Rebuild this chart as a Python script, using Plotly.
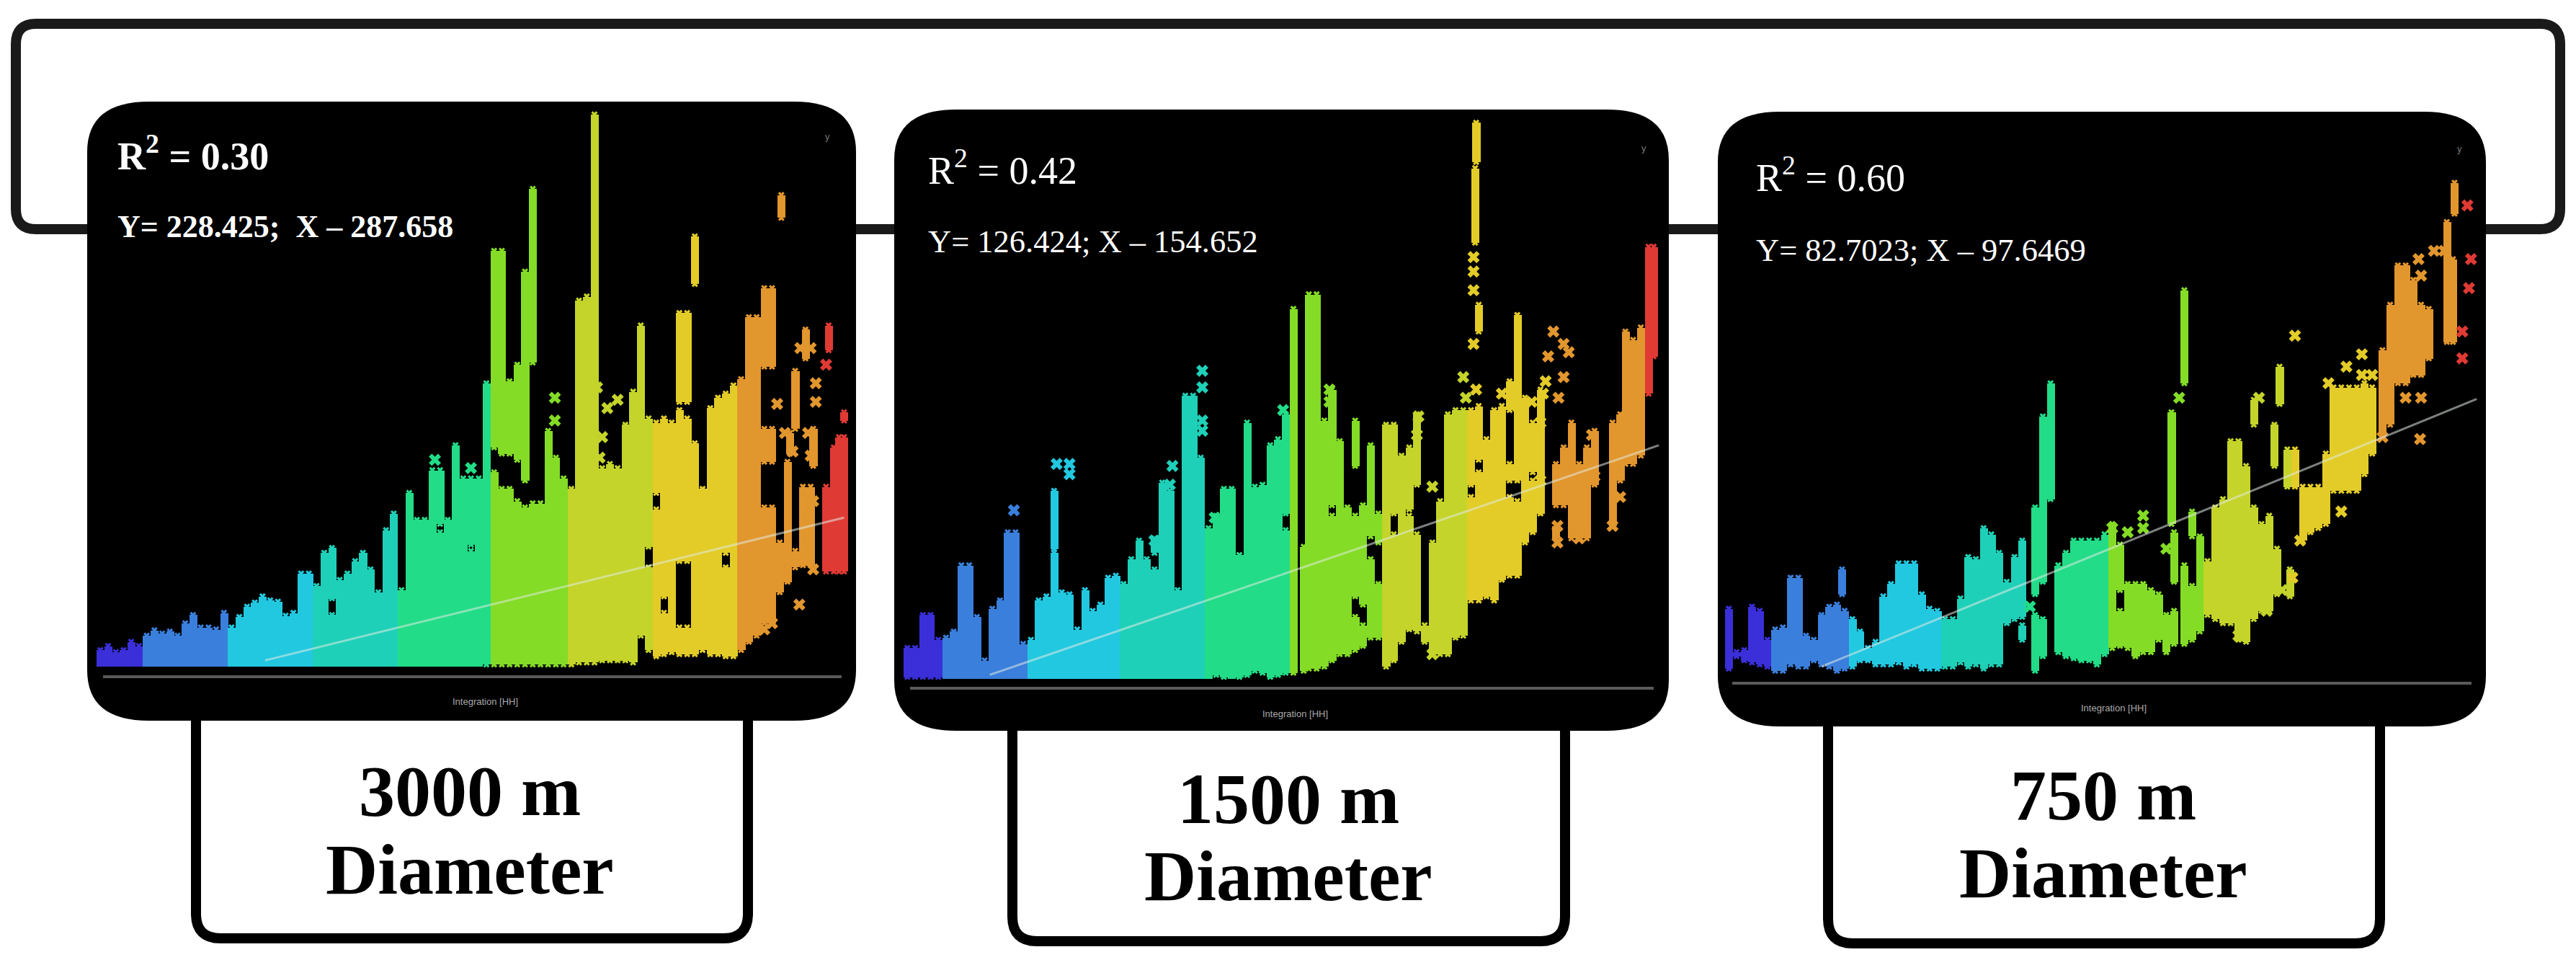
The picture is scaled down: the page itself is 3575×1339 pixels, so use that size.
import bisect
import plotly.graph_objects as go

W, H = 3575, 1339

# ---------- data: (column position, lower value, upper value) ----------
p1_columns = [(55,0,40),(70,0,50),(85,0,35),(100,0,40),(115,0,60),(130,0,50),(145,0,75),(160,0,88),(175,0,80),(190,0,85),(205,0,75),(220,0,105),(235,0,125),(250,0,95),(265,0,95),(280,0,90),(295,0,130),(310,0,95),(325,0,120),(340,0,145),(355,0,155),(370,0,170),(385,0,160),(400,0,157),(415,0,123),(430,0,130),(445,0,225),(460,0,225),(475,0,195),(490,0,275),(505,0,125),(505,165,287),(520,0,210),(535,0,225),(550,0,255),(565,0,275),(580,0,235),(595,0,180),(610,0,330),(625,0,370),(640,0,185),(655,0,420),(670,0,355),(685,0,355),(700,0,475),(715,0,325),(715,345,475),(730,0,355),(745,0,535),(760,0,455),(775,0,280),(775,295,455),(790,0,455),
(805,5,685),(820,5,470),(820,530,1005),(835,5,430),(835,515,1005),(850,5,430),(850,515,690),(865,5,400),(865,500,730),(880,5,385),(880,450,955),(895,5,395),(895,735,1155),(910,5,395),(925,5,570),(940,5,505),(955,5,455),(970,5,430),(985,10,885),(1000,10,895),(1015,10,1335),(1030,15,480),(1045,15,490),(1060,15,480),(1075,15,585),(1090,10,665),(1105,75,825),(1120,40,240),(1120,290,600),(1135,25,380),(1135,420,590),(1150,30,130),(1150,170,600),(1165,35,590),(1180,30,95),(1180,255,620),(1180,640,855),(1195,30,95),(1195,255,600),(1195,640,855),(1210,30,540),(1210,925,1040),(1225,40,430),(1240,30,625),(1255,30,650),(1270,25,240),(1270,275,660),(1285,25,680),(1300,40,695),
(1315,60,845),(1330,75,845),(1345,105,385),(1345,725,915),(1345,495,575),(1360,105,385),(1360,495,575),(1360,725,915),(1378,1085,1140),(1375,180,300),(1390,205,495),(1395,515,565),(1405,575,715),(1405,240,280),(1420,245,435),(1425,745,815),(1435,245,435),(1440,485,575),(1465,230,435),(1470,765,825),(1480,230,530),(1490,230,555),(1500,230,555),(1500,595,615)]
p1_marks = [(705,500),(775,480),(938,650),(938,595),(1020,675),(1040,625),(1060,645),(1030,555),(1010,515),(1025,505),(1370,635),(1445,685),(1445,640),(1465,730),(1430,565),(1435,510),(1470,415),(1440,400),(1390,255),(1440,235),(1413,150),(1360,105),(1415,770),(1435,770),(1400,520),(1345,90),(1385,565)]
p1_trend_x = [375, 1500]
p1_trend_y = [15, 360]
p1_edges = [140, 305, 470, 640, 810, 970, 1130, 1300, 1450]

p2_columns = [(55,5,75),(70,5,75),(85,5,155),(100,5,155),(115,5,95),(130,0,100),(145,0,115),(160,0,275),(175,0,275),(190,0,150),(205,0,45),(220,0,170),(235,0,190),(250,0,355),(265,0,355),(280,0,85),(295,0,95),(310,0,190),(325,0,200),(340,0,305),(340,315,455),(355,0,210),(370,0,205),(385,0,120),(400,0,215),(415,0,165),(430,0,180),(445,0,245),(460,0,250),(475,0,230),(490,0,290),(505,0,335),(520,0,290),(535,0,265),(535,305,340),(550,0,475),(565,0,455),(580,0,215),(595,0,685),(610,0,685),(625,0,535),(640,0,365),
(655,10,395),(670,5,460),(685,0,460),(700,5,300),(715,10,620),(730,20,465),(745,15,470),(760,5,565),(775,10,580),(790,15,360),(790,400,640),(805,15,895),(825,20,320),(835,25,930),(850,25,930),(865,30,625),(880,45,395),(880,420,700),(895,60,575),(910,60,415),(925,70,150),(925,200,395),(925,515,625),(940,80,130),(940,180,420),(955,100,290),(955,345,565),(970,100,230),(970,330,400),(985,30,615),(1000,45,350),(1000,400,615),(1015,90,540),(1030,120,395),(1030,410,560),(1045,115,350),(1045,470,640),(1060,90,130),(1075,60,330),(1090,60,430),(1105,60,640),(1120,100,650),(1135,105,650),(1150,190,440),(1150,470,650),(1165,190,500),(1165,530,660),(1160,1250,1345),(1158,1055,1235),(1165,840,905),(1180,200,580),(1195,190,650),(1210,240,660),(1225,250,440),(1225,480,520),(1225,650,720),(1240,250,430),(1240,480,880),(1255,330,680),(1270,355,480),(1270,500,620),(1285,400,700),(1315,340,370),(1315,420,520),(1330,420,560),(1345,340,620),(1360,340,520),(1375,340,560),(1390,470,600),(1425,370,620),(1440,480,640),(1450,520,840),(1465,520,820),(1480,540,850),(1495,690,1045),(1505,780,1045)]
p2_marks = [(262,408),(345,520),(370,520),(370,495),(628,745),(628,705),(628,625),(628,600),(570,515),(565,470),(652,390),(660,310),(535,335),(785,650),(875,700),(875,670),(1048,635),(1045,590),(1075,465),(1075,60),(1155,1020),(1155,985),(1155,940),(1155,810),(1135,730),(1160,700),(1140,680),(1210,690),(1240,660),(1245,650),(1268,670),(1310,840),(1330,810),(1340,790),(1300,780),(1330,730),(1295,720),(1285,620),(1290,690),(1320,680),(1355,500),(1390,490),(1385,590),(1360,340),(1318,370),(1318,330),(1425,370),(1440,440),(1435,540),(1275,560),(1285,480)]
p2_trend_x = [215, 1515]
p2_trend_y = [10, 565]
p2_edges = [120, 290, 465, 640, 805, 975, 1150, 1300, 1490]

p3_columns = [(55,10,155),(70,40,50),(85,30,55),(100,25,160),(115,20,150),(130,15,80),(145,5,105),(160,5,110),(175,20,230),(190,15,230),(205,15,90),(220,30,80),(235,20,140),(250,15,160),(265,5,165),(275,190,250),(280,10,150),(295,15,130),(310,30,100),(325,30,60),(340,20,75),(355,20,185),(370,20,215),(385,25,265),(400,15,265),(415,20,265),(430,10,190),(445,10,155),(460,10,150),(475,15,130),(490,15,130),(505,25,180),(520,15,280),(535,20,275),(550,10,350),(565,20,335),(580,20,290),(595,120,220),(610,130,280),(625,80,115),(625,135,320),(650,5,140),(650,190,400),(665,40,130),(665,220,620),(680,420,700),
(695,50,260),(710,40,290),(725,35,320),(740,30,320),(755,30,320),(770,20,320),(785,45,335),(800,60,360),(815,65,150),(815,200,310),(830,60,215),(845,40,215),(860,50,215),(875,50,200),(890,80,190),(905,50,140),(920,70,150),(920,220,340),(915,360,630),(940,700,925),(940,70,260),(955,80,210),(955,330,390),(970,100,330),(985,140,270),(1000,130,400),(1015,120,420),(1030,120,560),(1045,80,560),(1060,75,500),(1075,130,400),(1075,600,660),(1090,150,360),(1105,150,380),(1115,500,600),(1120,190,300),(1125,650,740),(1140,450,540),(1155,450,540),(1145,185,250),(1170,320,450),(1185,340,450),(1200,350,450),(1215,360,530),(1230,440,690),(1245,440,690),(1260,440,690),(1275,440,690),(1290,480,700),(1305,530,690),(1325,580,780),(1340,600,890),(1355,700,985),(1370,700,985),(1385,720,950),(1400,720,890),(1415,760,880),(1450,800,1000),(1462,800,1000),(1465,1110,1185),(1450,1000,1090)]
p3_marks = [(640,160),(830,340),(860,350),(860,380),(800,350),(905,300),(930,665),(1085,665),(1155,815),(1150,230),(1130,200),(1100,150),(1045,90),(1165,320),(1245,390),(1255,740),(1285,770),(1285,720),(1305,720),(1220,700),(1398,565),(1370,665),(1400,665),(1425,1020),(1445,1020),(1480,760),(1480,825),(1490,1130),(1497,1000),(1493,930),(1325,570),(1395,1000),(1400,960)]
p3_trend_x = [235, 1508]
p3_trend_y = [15, 662]
p3_edges = [135, 290, 470, 640, 800, 975, 1150, 1320, 1480]

band_colors = ["#3a2fd8", "#3a7fdc", "#22c8e0", "#1fd0b8", "#22dc88", "#84dc26", "#c4d42a", "#e3cc28", "#e2962e", "#e03a34"]

titles = ["R<sup>2</sup> = 0.30", "R<sup>2</sup> = 0.42", "R<sup>2</sup> = 0.60"]
equations = ["Y= 228.425;  X – 287.658", "Y= 126.424; X – 154.652", "Y= 82.7023; X – 97.6469"]
diameters = ["3000 m", "1500 m", "750 m"]

# ---------- layout of the composition, in page pixels ----------
panel_boxes = [(121, 141, 1188, 1000), (1241, 152, 2316, 1014), (2384, 155, 3450, 1008)]
crop_origins = [(100, 130), (1220, 130), (2360, 130)]
baselines = [1385, 1415, 1400]
label_boxes = [(272, 1302), (1405, 1306), (2537, 1309)]
label_rights = [1038, 2172, 3303]
text_pos = [(161, 212, 315, True), (1286, 232, 335, False), (2435, 243, 347, False)]
axis_lines = [(143, 1168, 939), (1263, 2295, 955), (2404, 3430, 948)]
label_text = [(652, 1097, 1206), (1788, 1108, 1215), (2919, 1103, 1211)]
y_marks = [(1148, 190), (2281, 205), (3413, 206)]
xlabel_pos = [(673, 973), (1797, 990), (2933, 982)]

def px(x): return x / W
def py(y): return 1 - y / H

def rounded(x0, y0, x1, y1, r, ry=None):
    ry = ry or r
    X = lambda v: f"{px(v):.6f}"
    Y = lambda v: f"{py(v):.6f}"
    return (f"M {X(x0+r)} {Y(y0)} L {X(x1-r)} {Y(y0)} Q {X(x1)} {Y(y0)} {X(x1)} {Y(y0+ry)} "
            f"L {X(x1)} {Y(y1-ry)} Q {X(x1)} {Y(y1)} {X(x1-r)} {Y(y1)} "
            f"L {X(x0+r)} {Y(y1)} Q {X(x0)} {Y(y1)} {X(x0)} {Y(y1-ry)} "
            f"L {X(x0)} {Y(y0+ry)} Q {X(x0)} {Y(y0)} {X(x0+r)} {Y(y0)} Z")

fig = go.Figure()
shapes = []
annotations = []

shapes.append(dict(type="path", path=rounded(22, 33, 3553, 318, 28), xref="paper", yref="paper",
                   line=dict(color="#1a1a1a", width=14), layer="below"))
for (x0, yb), x1 in zip(label_boxes, label_rights):
    shapes.append(dict(type="path", path=rounded(x0, 930, x1, yb, 34), xref="paper", yref="paper",
                       line=dict(color="#000000", width=14), fillcolor="#ffffff", layer="below"))
for b in panel_boxes:
    shapes.append(dict(type="path", path=rounded(*b, 86, 70), xref="paper", yref="paper",
                       line=dict(width=0), fillcolor="#000000", layer="below"))

datasets = [(p1_columns, p1_marks, p1_trend_x, p1_trend_y, p1_edges),
            (p2_columns, p2_marks, p2_trend_x, p2_trend_y, p2_edges),
            (p3_columns, p3_marks, p3_trend_x, p3_trend_y, p3_edges)]

layout_axes = {}
for i, (cols, marks, tx, ty, edges) in enumerate(datasets):
    n = i + 1
    ox, oy = crop_origins[i]
    base = baselines[i]
    sx, sy = 1120 / 1568, 900 / 1568
    xa, ya = ("x", "y") if i == 0 else (f"x{n}", f"y{n}")
    xk, yk = ("xaxis", "yaxis") if i == 0 else (f"xaxis{n}", f"yaxis{n}")
    x_lo, x_hi = 40, 1530
    top_h, bot_h = base - 10, -30
    layout_axes[xk] = dict(domain=[px(ox + x_lo * sx), px(ox + x_hi * sx)], range=[x_lo, x_hi],
                           visible=False, anchor=ya, fixedrange=True)
    layout_axes[yk] = dict(domain=[py(oy + (base - bot_h) * sy), py(oy + (base - top_h) * sy)],
                           range=[bot_h, top_h], visible=False, anchor=xa, fixedrange=True)

    for b, color in enumerate(band_colors):
        in_band = [c for c in cols if bisect.bisect_right(edges, c[0]) == b]
        m_band = [m for m in marks if bisect.bisect_right(edges, m[0]) == b]
        if in_band:
            fig.add_trace(go.Bar(x=[c[0] for c in in_band], y=[c[2] - c[1] for c in in_band],
                                 base=[c[1] for c in in_band], width=15.6,
                                 marker=dict(color=color, line=dict(width=0)),
                                 xaxis=xa, yaxis=ya, showlegend=False, hoverinfo="skip"))
            edge_x = [c[0] for c in in_band] + [c[0] for c in in_band if c[1] > 0]
            edge_y = [c[2] for c in in_band] + [c[1] for c in in_band if c[1] > 0]
            fig.add_trace(go.Scatter(x=edge_x, y=edge_y, mode="markers",
                                     marker=dict(symbol="x", size=8, color=color, line=dict(width=0)),
                                     xaxis=xa, yaxis=ya, showlegend=False, hoverinfo="skip"))
        if m_band:
            fig.add_trace(go.Scatter(x=[m[0] for m in m_band], y=[m[1] for m in m_band], mode="markers",
                                     marker=dict(symbol="x", size=15, color=color, line=dict(width=0)),
                                     xaxis=xa, yaxis=ya, showlegend=False, hoverinfo="skip"))
    fig.add_trace(go.Scatter(x=tx, y=ty, mode="lines", line=dict(color="rgba(225,235,225,0.55)", width=3),
                             xaxis=xa, yaxis=ya, showlegend=False, hoverinfo="skip"))

    ax0, ax1, ay = axis_lines[i]
    shapes.append(dict(type="line", xref="paper", yref="paper", x0=px(ax0), x1=px(ax1), y0=py(ay), y1=py(ay),
                       line=dict(color="#5a5a5a", width=4)))

    tx0, y1, y2, bold = text_pos[i]
    serif = "Liberation Serif"
    eq_size = 44 if bold else 44.5
    for txt, yy, size in ((titles[i], y1, 54), (equations[i], y2, eq_size)):
        annotations.append(dict(text=f"<b>{txt}</b>" if bold else txt, x=px(tx0), y=py(yy), xref="paper", yref="paper",
                                xanchor="left", yanchor="middle", showarrow=False,
                                font=dict(family=serif, size=size, color="#ffffff")))
    cx, l1, l2 = label_text[i]
    for txt, yy in ((diameters[i], l1), ("Diameter", l2)):
        annotations.append(dict(text=f"<b>{txt}</b>", x=px(cx), y=py(yy), xref="paper", yref="paper",
                                xanchor="center", yanchor="middle", showarrow=False,
                                font=dict(family=serif, size=100, color="#000000")))
    lx, ly = xlabel_pos[i]
    annotations.append(dict(text="Integration [HH]", x=px(lx), y=py(ly), xref="paper", yref="paper",
                            xanchor="center", yanchor="middle", showarrow=False,
                            font=dict(family="Liberation Sans", size=13, color="#aaaaaa")))
    mx, my = y_marks[i]
    annotations.append(dict(text="y", x=px(mx), y=py(my), xref="paper", yref="paper",
                            xanchor="center", yanchor="middle", showarrow=False,
                            font=dict(family="Liberation Sans", size=13, color="#777777")))

fig.update_layout(width=W, height=H, margin=dict(l=0, r=0, t=0, b=0, pad=0), paper_bgcolor="#ffffff",
                  plot_bgcolor="rgba(0,0,0,0)", barmode="overlay", bargap=0, shapes=shapes,
                  annotations=annotations, showlegend=False, **layout_axes)
fig.write_html("out.html", config={"displayModeBar": False},
               post_script="document.body.style.margin='0';document.documentElement.style.overflow='hidden';")
